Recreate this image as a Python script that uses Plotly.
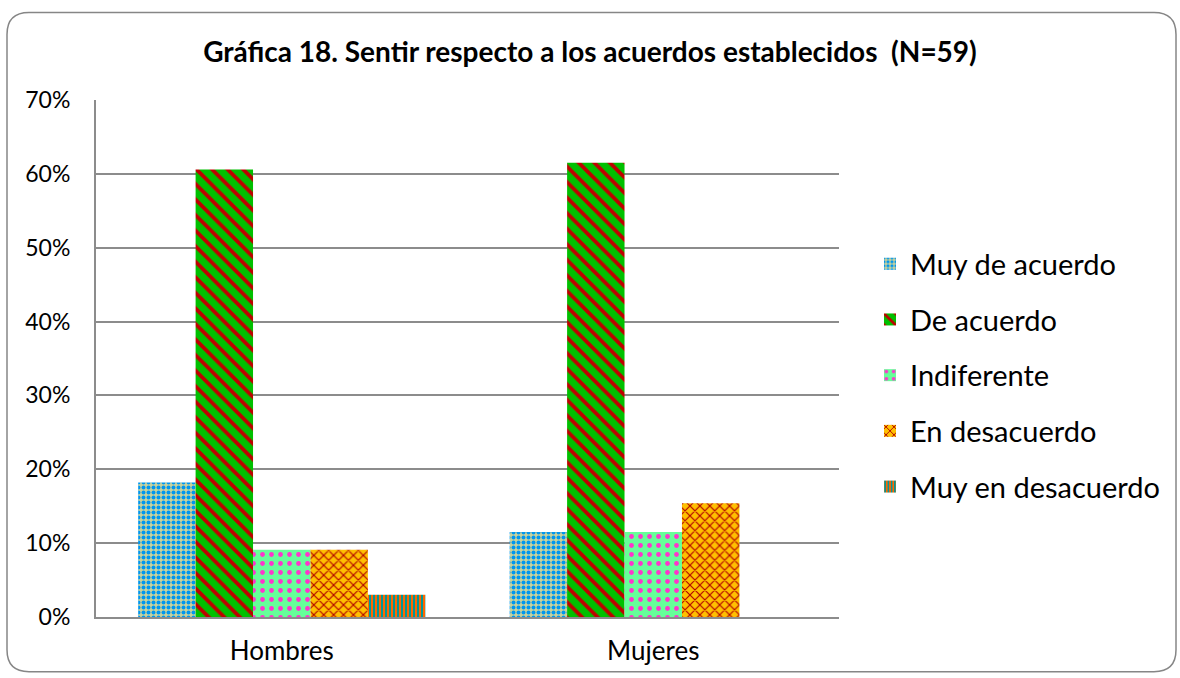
import plotly.graph_objects as go

# data
grupos = ['Hombres', 'Mujeres']
respuestas = ['Muy de acuerdo', 'De acuerdo', 'Indiferente', 'En desacuerdo', 'Muy en desacuerdo']
muy_de_acuerdo = [0.182, 0.115]
de_acuerdo = [0.606, 0.615]
indiferente = [0.091, 0.115]
en_desacuerdo = [0.091, 0.154]
muy_en_desacuerdo = [0.030, 0.0]

valores = [muy_de_acuerdo, de_acuerdo, indiferente, en_desacuerdo, muy_en_desacuerdo]

# pattern styles (bg, fg, shape, size, solidity)
estilos = [
    dict(bgcolor='#C9D29B', fgcolor='#0096EE', shape='.', size=5, solidity=0.5),
    dict(bgcolor='#00C000', fgcolor='#C00000', shape='\\', size=11, solidity=0.35),
    dict(bgcolor='#66FF99', fgcolor='#FF33CC', shape='.', size=9, solidity=0.22),
    dict(bgcolor='#FFC000', fgcolor='#B00000', shape='x', size=7, solidity=0.3),
    dict(bgcolor='#FF6600', fgcolor='#009999', shape='|', size=4, solidity=0.5),
]

W, H = 1180, 678
L, R, T, B = 96, 839, 100, 620
FONT = 'Lato, Calibri, sans-serif'

fig = go.Figure()
for k, (nombre, vals) in enumerate(zip(respuestas, valores)):
    fig.add_trace(go.Bar(x=grupos, y=vals, name=nombre,
                         legendgroup=nombre,
                         marker=dict(color=estilos[k]['bgcolor'],
                                     line=dict(width=0),
                                     pattern=dict(fillmode='replace', **estilos[k]))))


def px(x):
    return (x - L) / (R - L)


def py(y):
    return (B - y) / (B - T)


# outer rounded frame of the chart
x0, x1, y0, y1, r = 7, 1176, 12, 675, 22
path = (f"M {px(x0 + r)} {py(y0)} L {px(x1 - r)} {py(y0)} "
        f"Q {px(x1)} {py(y0)} {px(x1)} {py(y0 + r)} "
        f"L {px(x1)} {py(y1 - r)} Q {px(x1)} {py(y1)} {px(x1 - r)} {py(y1)} "
        f"L {px(x0 + r)} {py(y1)} Q {px(x0)} {py(y1)} {px(x0)} {py(y1 - r)} "
        f"L {px(x0)} {py(y0 + r)} Q {px(x0)} {py(y0)} {px(x0 + r)} {py(y0)} Z")

fig.update_layout(
    width=W, height=H,
    margin=dict(l=L, r=W - R, t=T, b=H - B),
    paper_bgcolor='white', plot_bgcolor='white',
    font=dict(family=FONT, color='black'),
    title=dict(text='<b>Gráfica 18. Sentir respecto a los acuerdos establecidos  (N=59)</b>',
               x=0.5, xref='container', xanchor='center',
               y=1 - 52 / H, yref='container', yanchor='middle',
               font=dict(size=28, family=FONT)),
    barmode='group', bargap=0.227, bargroupgap=0,
    legend=dict(x=px(870), xanchor='left', y=py(377), yanchor='middle',
                font=dict(size=29), tracegroupgap=15, bgcolor='rgba(0,0,0,0)'),
    shapes=[dict(type='path', xref='paper', yref='paper', path=path,
                 line=dict(color='#868686', width=1.5), layer='below')],
)
fig.update_yaxes(range=[0, 0.7], dtick=0.1, tickformat='.0%',
                 showgrid=True, gridcolor='#8C8C8C', gridwidth=2,
                 showline=True, linecolor='#8C8C8C', linewidth=2,
                 ticks='', tickfont=dict(size=23), ticklabelstandoff=19,
                 zeroline=False)
fig.update_xaxes(showline=True, linecolor='#8C8C8C', linewidth=2,
                 tickfont=dict(size=26), ticks='', ticklabelstandoff=10)

fig.write_html('out.html', config={'displayModeBar': False},
               post_script="document.body.style.margin='0';")
